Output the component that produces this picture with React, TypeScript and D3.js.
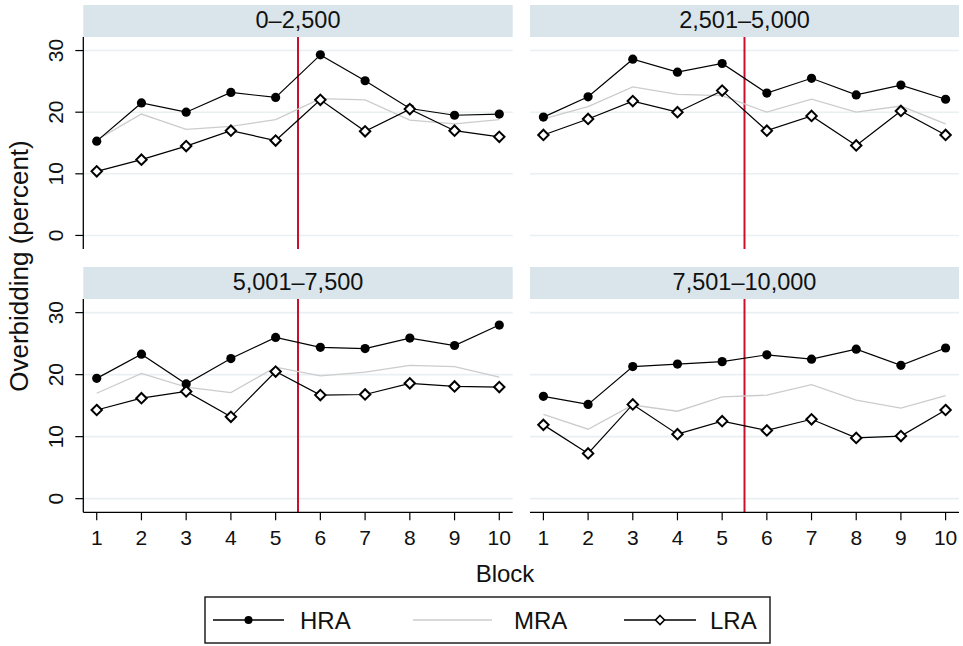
import React from 'react';
import * as d3 from 'd3';

const blocks = [1, 2, 3, 4, 5, 6, 7, 8, 9, 10];
const panelTitles = ['0\u20132,500', '2,501\u20135,000', '5,001\u20137,500', '7,501\u201310,000'];
const yTicks = [0, 10, 20, 30];

const hra = [
  [15.3, 21.5, 20.0, 23.2, 22.4, 29.3, 25.1, 20.6, 19.5, 19.7],
  [19.2, 22.5, 28.6, 26.5, 27.9, 23.1, 25.5, 22.8, 24.4, 22.1],
  [19.4, 23.3, 18.5, 22.6, 26.0, 24.4, 24.2, 25.9, 24.7, 28.0],
  [16.5, 15.2, 21.3, 21.7, 22.1, 23.2, 22.5, 24.1, 21.5, 24.3],
];
const mra = [
  [15.5, 19.7, 17.2, 17.7, 18.8, 22.2, 22.0, 18.7, 18.1, 18.8],
  [18.9, 20.9, 24.1, 22.9, 22.7, 20.0, 22.1, 20.0, 21.0, 18.1],
  [17.0, 20.2, 18.0, 17.1, 21.2, 19.8, 20.4, 21.5, 21.3, 19.6],
  [13.6, 11.2, 15.1, 14.1, 16.4, 16.7, 18.4, 15.9, 14.6, 16.6],
];
const lra = [
  [10.4, 12.3, 14.5, 17.0, 15.4, 22.0, 16.9, 20.5, 17.0, 16.0],
  [16.3, 18.9, 21.8, 20.0, 23.5, 17.0, 19.4, 14.6, 20.2, 16.3],
  [14.3, 16.2, 17.3, 13.2, 20.5, 16.7, 16.8, 18.6, 18.1, 18.0],
  [11.9, 7.3, 15.2, 10.4, 12.5, 11.0, 12.8, 9.8, 10.1, 14.3],
];
const breakAt = 5.5;
const legendNames = ['HRA', 'MRA', 'LRA'];

const FONT = '"Liberation Sans", Arial, Helvetica, sans-serif';
const STRIP = '#d9e5eb';
const GRID = '#e8f0f2';
const RED = '#c8102e';
const MRA_COL = '#cccccc';
const TXT = '#111';

const cols = [[83.3, 512.7], [530, 959]];
const rows = [{ strip: 5, top: 37, bottom: 249 }, { strip: 267, top: 299, bottom: 512.3 }];

function diamondPath(cx: number, cy: number, r: number) {
  return `M${cx},${cy - r}L${cx + r},${cy}L${cx},${cy + r}L${cx - r},${cy}Z`;
}

function Panel({ idx }: { idx: number }) {
  const col = idx % 2;
  const row = Math.floor(idx / 2);
  const [x0, x1] = cols[col];
  const { strip, top, bottom } = rows[row];
  const x = d3.scaleLinear().domain([0.7, 10.3]).range([x0, x1]);
  const y = d3.scaleLinear().domain([-2.2, 32.2]).range([bottom, top]);
  const line = d3.line<number>().x((_, i) => x(blocks[i])).y(d => y(d));

  return (
    <g>
      <rect x={x0} y={strip} width={x1 - x0} height={top - strip} fill={STRIP} />
      <text x={(x0 + x1) / 2} y={strip + 23} textAnchor="middle" fontSize={23.5} fill={TXT}>
        {panelTitles[idx]}
      </text>
      {yTicks.map(t => (
        <line key={t} x1={x0} x2={x1} y1={y(t)} y2={y(t)} stroke={GRID} strokeWidth={1.6} />
      ))}
      <line x1={x(breakAt)} x2={x(breakAt)} y1={top} y2={bottom} stroke={RED} strokeWidth={2} />
      <path d={line(mra[idx]) || ''} fill="none" stroke={MRA_COL} strokeWidth={1.3} />
      <path d={line(hra[idx]) || ''} fill="none" stroke="#000" strokeWidth={1.2} />
      <path d={line(lra[idx]) || ''} fill="none" stroke="#000" strokeWidth={1.2} />
      {hra[idx].map((v, i) => (
        <circle key={'h' + i} cx={x(blocks[i])} cy={y(v)} r={4.6} fill="#000" />
      ))}
      {lra[idx].map((v, i) => (
        <path key={'l' + i} d={diamondPath(x(blocks[i]), y(v), 5.2)} fill="#fff" stroke="#000" strokeWidth={2} />
      ))}
      {col === 0 && (
        <g>
          <line x1={x0} x2={x0} y1={top} y2={bottom} stroke="#000" strokeWidth={1.3} />
          {yTicks.map(t => (
            <g key={t}>
              <line x1={x0 - 8} x2={x0} y1={y(t)} y2={y(t)} stroke="#000" strokeWidth={1.2} />
              <text transform={`translate(${63},${y(t)}) rotate(-90)`} textAnchor="middle" fontSize={21} fill={TXT}>
                {t}
              </text>
            </g>
          ))}
        </g>
      )}
      {row === 1 && (
        <g>
          <line x1={x0} x2={x1} y1={bottom} y2={bottom} stroke="#000" strokeWidth={1.3} />
          {blocks.map(b => (
            <g key={b}>
              <line x1={x(b)} x2={x(b)} y1={bottom} y2={bottom + 8} stroke="#000" strokeWidth={1.2} />
              <text x={x(b)} y={545} textAnchor="middle" fontSize={21} fill={TXT}>
                {b}
              </text>
            </g>
          ))}
        </g>
      )}
    </g>
  );
}

function Legend() {
  const bx = 205, by = 597, bw = 565, bh = 46;
  const cy = by + bh / 2;
  const items = [
    { x1: 213, x2: 284, text: 300 },
    { x1: 413, x2: 492, text: 514 },
    { x1: 624, x2: 696, text: 710 },
  ];
  return (
    <g>
      <rect x={bx} y={by} width={bw} height={bh} fill="#fff" stroke="#222" strokeWidth={1.5} />
      {items.map((it, i) => (
        <g key={i}>
          <line x1={it.x1} x2={it.x2} y1={cy} y2={cy} stroke={i === 1 ? MRA_COL : '#000'} strokeWidth={1.3} />
          {i === 0 && <circle cx={(it.x1 + it.x2) / 2} cy={cy} r={4} fill="#000" />}
          {i === 2 && <path d={diamondPath((it.x1 + it.x2) / 2, cy, 4.5)} fill="#fff" stroke="#000" strokeWidth={1.6} />}
          <text x={it.text} y={cy + 8.5} fontSize={24} fill={TXT}>{legendNames[i]}</text>
        </g>
      ))}
    </g>
  );
}

export default function App() {
  return (
    <svg width={963} height={646} style={{ position: 'absolute', left: 0, top: 0, background: '#fff' }} fontFamily={FONT}>
      <rect width={963} height={646} fill="#fff" />
      {[0, 1, 2, 3].map(i => <Panel key={i} idx={i} />)}
      <text transform="translate(28,266) rotate(-90)" textAnchor="middle" fontSize={26} fill={TXT}>
        Overbidding (percent)
      </text>
      <text x={505} y={582} textAnchor="middle" fontSize={24} fill={TXT}>Block</text>
      <Legend />
    </svg>
  );
}
